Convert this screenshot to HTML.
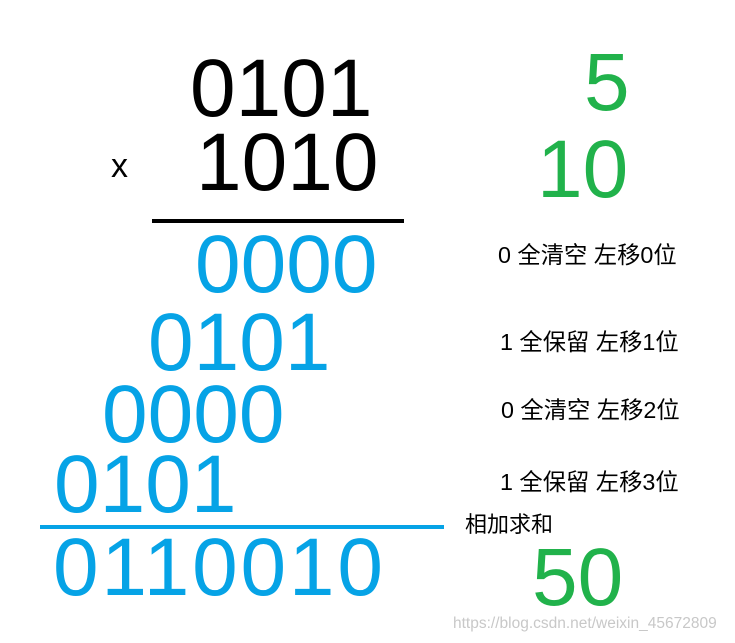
<!DOCTYPE html>
<html><head><meta charset="utf-8"><style>
body{margin:0;width:735px;height:643px;background:#fff;position:relative;overflow:hidden;font-family:"Liberation Sans","Noto Sans CJK SC",sans-serif}
.d{position:absolute;font-size:82px;line-height:1;white-space:nowrap}
.k{color:#000}.b{color:#06a3e6}.g{color:#21b24b}
.l{position:absolute;font-size:23.3px;line-height:26px;white-space:nowrap;color:#000}
.ln{position:absolute;height:4px}
</style></head><body>
<div class="d k" style="left:190px;top:48px">0101</div>
<div class="d k" style="left:196px;top:122px">1010</div>
<div class="l" style="left:111px;top:146px;font-size:34px;line-height:40px">x</div>
<div class="ln" style="left:152px;top:219px;width:252px;background:#000"></div>
<div class="d b" style="left:195px;top:224px">0000</div>
<div class="d b" style="left:148px;top:302px">0101</div>
<div class="d b" style="left:102px;top:374px">0000</div>
<div class="d b" style="left:54px;top:444px">0101</div>
<div class="ln" style="left:40px;top:525px;width:404px;background:#06a3e6"></div>
<div class="d b" style="left:53px;top:527px;letter-spacing:2.8px">0110010</div>
<div class="d g" style="left:584px;top:42px">5</div>
<div class="d g" style="left:537px;top:129px">10</div>
<div class="d g" style="left:532px;top:537px">50</div>
<div class="l" style="left:498px;top:242px">0 全清空 左移0位</div>
<div class="l" style="left:500px;top:329px">1 全保留 左移1位</div>
<div class="l" style="left:501px;top:397px">0 全清空 左移2位</div>
<div class="l" style="left:500px;top:469px">1 全保留 左移3位</div>
<div class="l" style="left:465px;top:512px;font-size:22px">相加求和</div>
<div class="l" style="left:453px;top:614px;font-size:15.5px;line-height:20px;color:#c8c8c8">https://blog.csdn.net/weixin_45672809</div>
</body></html>
